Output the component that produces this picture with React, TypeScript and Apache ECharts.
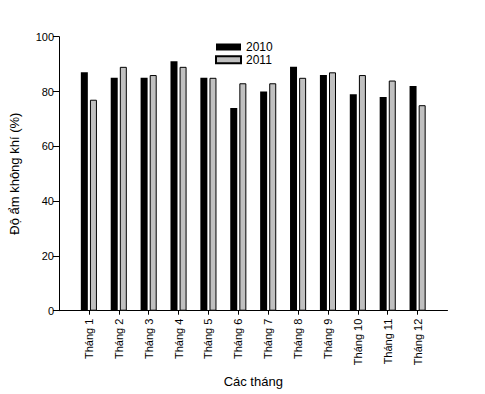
import React, { useEffect, useRef } from "react";
import * as echarts from "echarts";

const months = [1, 2, 3, 4, 5, 6, 7, 8, 9, 10, 11, 12];
const monthLabelPrefix = "Tháng ";
const values2010 = [87, 85, 85, 91, 85, 74, 80, 89, 86, 79, 78, 82];
const values2011 = [77, 89, 86, 89, 85, 83, 83, 85, 87, 86, 84, 75];
const yTicks = [0, 20, 40, 60, 80, 100];
const seriesNames = ["2010", "2011"];
const xAxisTitle = "Các tháng";
const yAxisTitle = "Độ ẩm không khí (%)";

const FONT = "'Liberation Sans', Arial, sans-serif";

export default function App() {
  const ref = useRef<HTMLDivElement>(null);
  useEffect(() => {
    if (!ref.current) return;
    const chart = echarts.init(ref.current, undefined, { renderer: "svg" });
    chart.setOption({
      animation: false,
      backgroundColor: "#ffffff",
      textStyle: { fontFamily: FONT, color: "#000" },
      grid: { left: 56.5, right: 37.5, top: 36.7, bottom: 83.3, containLabel: false },
      legend: {
        orient: "vertical",
        left: 215,
        top: 41,
        padding: 0,
        itemWidth: 25,
        itemHeight: 7,
        itemGap: 0.7,
        icon: "rect",
        selectedMode: false,
        textStyle: { fontFamily: FONT, fontSize: 12, lineHeight: 12, color: "#000" },
        data: seriesNames,
      },
      xAxis: {
        type: "value",
        min: 0,
        max: 13,
        interval: 1,
        name: xAxisTitle,
        nameLocation: "middle",
        nameGap: 64,
        nameTextStyle: { fontFamily: FONT, fontSize: 13, color: "#000" },
        splitLine: { show: false },
        axisLine: { show: true, onZero: false, lineStyle: { color: "#000", width: 1 } },
        axisTick: {
          show: true,
          inside: false,
          length: 4,
          customValues: months,
          lineStyle: { color: "#000" },
        },
        axisLabel: {
          customValues: months,
          rotate: 90,
          margin: 8,
          fontFamily: FONT,
          fontSize: 11,
          color: "#000",
          formatter: (v: number) => monthLabelPrefix + v,
        },
      },
      yAxis: {
        type: "value",
        min: 0,
        max: 100,
        interval: 20,
        name: yAxisTitle,
        nameLocation: "middle",
        nameRotate: 90,
        nameGap: 38,
        nameTextStyle: { fontFamily: FONT, fontSize: 13, color: "#000" },
        splitLine: { show: false },
        axisLine: { show: true, lineStyle: { color: "#000", width: 1 } },
        axisTick: { show: true, length: 6, lineStyle: { color: "#000" } },
        axisLabel: {
          fontFamily: FONT,
          fontSize: 11,
          color: "#000",
          margin: 5,
          customValues: yTicks,
        },
      },
      series: [
        {
          name: seriesNames[0],
          type: "bar",
          barWidth: 7,
          barGap: "30%",
          data: months.map((m, i) => [m, values2010[i]]),
          itemStyle: { color: "#000000", borderColor: "#000", borderWidth: 0 },
        },
        {
          name: seriesNames[1],
          type: "bar",
          barWidth: 7,
          barGap: "30%",
          data: months.map((m, i) => [m, values2011[i]]),
          itemStyle: { color: "#c0c0c0", borderColor: "#000", borderWidth: 1 },
        },
      ],
    });
    return () => chart.dispose();
  }, []);
  return (
    <div
      ref={ref}
      style={{ position: "fixed", left: 0, top: 0, width: 485, height: 394 }}
    />
  );
}
